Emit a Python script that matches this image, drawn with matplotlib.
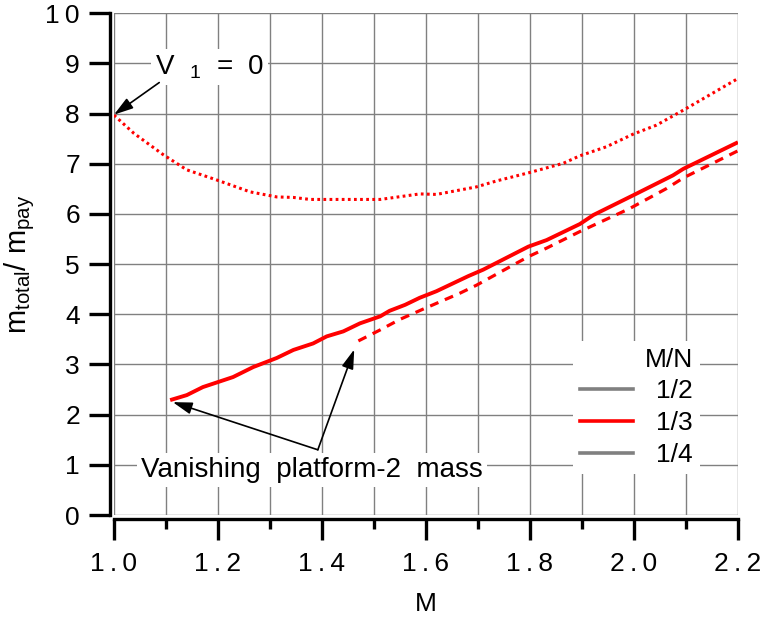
import numpy as np
import matplotlib
matplotlib.use("Agg")
import matplotlib.pyplot as plt
from matplotlib.lines import Line2D
from matplotlib.ticker import MultipleLocator, FuncFormatter

plt.rcParams["font.family"] = ["Liberation Sans", "DejaVu Sans"]
plt.rcParams["mathtext.default"] = "regular"

# curves (M/N = 1/3)
m_solid = [1.108, 1.14, 1.171, 1.229, 1.268, 1.313, 1.345, 1.383, 1.409, 1.441, 1.473,
           1.512, 1.53, 1.56, 1.588, 1.62, 1.681, 1.71, 1.797, 1.832, 1.896, 1.922,
           1.998, 2.075, 2.095, 2.2]
r_solid = [2.29, 2.39, 2.55, 2.75, 2.95, 3.13, 3.29, 3.42, 3.56, 3.66, 3.82,
           3.96, 4.07, 4.19, 4.33, 4.46, 4.76, 4.89, 5.35, 5.48, 5.80, 5.98,
           6.37, 6.77, 6.90, 7.43]

m_dash = [1.47, 1.512, 1.55, 1.598, 1.665, 1.697, 1.797, 1.832, 1.896, 1.992, 2.063, 2.095, 2.2]
r_dash = [3.47, 3.69, 3.90, 4.12, 4.42, 4.58, 5.15, 5.32, 5.65, 6.11, 6.51, 6.72, 7.26]

m_dot = [1.0, 1.038, 1.095, 1.14, 1.197, 1.262, 1.313, 1.345, 1.377, 1.45, 1.512,
         1.588, 1.62, 1.697, 1.736, 1.797, 1.864, 1.896, 1.947, 1.998, 2.043, 2.095, 2.2]
r_dot = [7.97, 7.61, 7.18, 6.88, 6.68, 6.44, 6.34, 6.33, 6.29, 6.29, 6.29,
         6.40, 6.39, 6.54, 6.66, 6.82, 7.01, 7.16, 7.34, 7.59, 7.77, 8.07, 8.70]

legend_labels = ["1/2", "1/3", "1/4"]
legend_colors = ["grey", "red", "grey"]

TS = "\u2009"  # thin space, the original tick labels are letter-spaced


def spaced(fmt):
    return FuncFormatter(lambda v, pos: TS.join(fmt % v))


fig = plt.figure(figsize=(7.63, 6.19), dpi=100)
ax = fig.add_axes([0.1494, 0.168, 0.8178, 0.8105])

ax.plot(m_solid, r_solid, color="red", lw=2.8, solid_capstyle="butt")
ax.plot(m_dash, r_dash, color="red", lw=2.3, dashes=(2.8, 2.2))
ax.plot(m_dot, r_dot, color="red", lw=2.2, dashes=(0.9, 1.1))

ax.set_xlim(1.0, 2.2)
ax.set_ylim(0, 10)
ax.xaxis.set_major_locator(MultipleLocator(0.2))
ax.xaxis.set_minor_locator(MultipleLocator(0.1))
ax.yaxis.set_major_locator(MultipleLocator(1))
ax.xaxis.set_major_formatter(spaced("%.1f"))
ax.yaxis.set_major_formatter(spaced("%d"))

ax.grid(True, which="both", axis="x", color="grey", lw=1)
ax.grid(True, which="major", axis="y", color="grey", lw=1)
ax.set_axisbelow(True)

for s in ["top", "right"]:
    ax.spines[s].set_visible(False)
for s in ["left", "bottom"]:
    ax.spines[s].set_linewidth(2.4)
    ax.spines[s].set_position(("outward", 3))

ax.tick_params(which="major", length=15, width=2.4, labelsize=19)
ax.tick_params(axis="x", which="major", pad=8.5)
ax.tick_params(axis="y", which="major", pad=6.5)
ax.tick_params(which="minor", length=7.5, width=2.4)

ax.set_xlabel("M", fontsize=19, labelpad=12)
ax.set_ylabel("m$_{total}$/ m$_{pay}$", fontsize=21, labelpad=6)

box = dict(facecolor="white", edgecolor="none", pad=3)
arrow = dict(arrowstyle="-|>,head_length=0.65,head_width=0.2", color="black", lw=1.2,
             mutation_scale=18, shrinkA=0, shrinkB=0)

ax.text(1.184, 8.93, "V  $_1$  =  0", fontsize=20, ha="center", va="center", bbox=box)
ax.annotate("", xy=(1.0, 7.98), xytext=(1.087, 8.62), arrowprops=arrow)

ax.text(1.381, 0.9, "Vanishing  platform-2  mass", fontsize=20, ha="center",
        va="center", bbox=box)
ax.annotate("", xy=(1.113, 2.25), xytext=(1.392, 1.3), arrowprops=arrow)
ax.annotate("", xy=(1.462, 3.3), xytext=(1.392, 1.3), arrowprops=arrow)

handles = [Line2D([], [], color=c, lw=2.6) for c in legend_colors]
leg = ax.legend(handles, legend_labels, title="M/N", loc="lower left",
                bbox_to_anchor=(0.736, 0.082), fontsize=19, title_fontsize=19,
                frameon=True, fancybox=False, framealpha=1, edgecolor="none",
                handlelength=2.0, handletextpad=0.9, labelspacing=0.3,
                borderpad=0.25, borderaxespad=0, alignment="right")

fig.savefig("out.png", dpi=100)
